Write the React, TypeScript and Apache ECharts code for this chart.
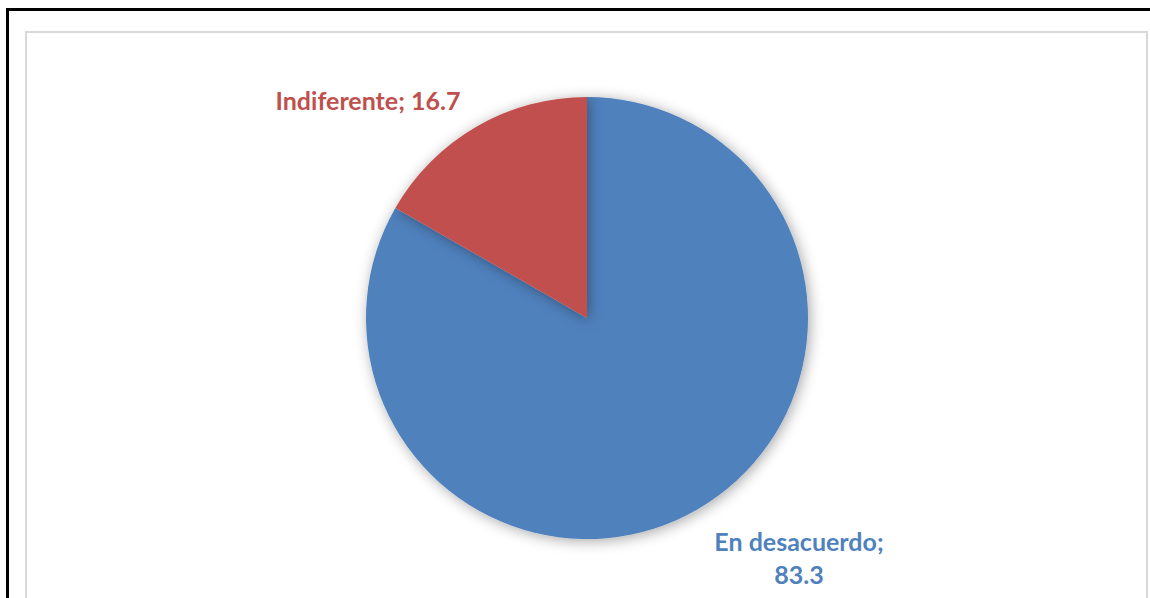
import React, { useEffect, useRef } from "react";
import * as echarts from "echarts";

const categories = ["En desacuerdo", "Indiferente"];
const values = [83.3, 16.7];
const colors = ["#4F81BD", "#C0504D"];

export default function App() {
  const ref = useRef<HTMLDivElement>(null);
  useEffect(() => {
    if (!ref.current) return;
    const chart = echarts.init(ref.current, null, { renderer: "svg" });
    const labelPos = [
      { x: 799, y: 557 },
      { x: 368, y: 100 },
    ];
    chart.setOption({
      animation: false,
      backgroundColor: "#ffffff",
      graphic: [
        {
          type: "line",
          shape: { x1: 7.5, y1: 9.5, x2: 1160, y2: 9.5 },
          style: { stroke: "#000000", lineWidth: 3 },
        },
        {
          type: "line",
          shape: { x1: 7.5, y1: 8, x2: 7.5, y2: 610 },
          style: { stroke: "#000000", lineWidth: 3 },
        },
        {
          type: "polyline",
          shape: { points: [[26, 610], [26, 32], [1147, 32], [1147, 610]] },
          style: { stroke: "#d9d9d9", lineWidth: 2, fill: "none" },
        },
      ],
      series: [
        {
          type: "pie",
          center: [587, 318],
          radius: [0, 221],
          startAngle: 90,
          clockwise: true,
          data: categories.map((c, i) => ({
            name: c,
            value: values[i],
            itemStyle: { color: colors[i] },
            label: { color: colors[i] },
          })),
          itemStyle: {
            shadowBlur: 14,
            shadowOffsetX: 2,
            shadowOffsetY: 2,
            shadowColor: "rgba(0,0,0,0.35)",
            borderWidth: 0,
          },
          label: {
            show: true,
            position: "outside",
            fontFamily: "Lato, 'Open Sans', sans-serif",
            fontWeight: "bold",
            fontSize: 25,
            lineHeight: 33,
            formatter: (p: any) =>
              p.dataIndex === 0 ? `${p.name};\n${p.value}` : `${p.name}; ${p.value}`,
          },
          labelLine: { show: false },
          labelLayout: (params: any) => ({
            x: labelPos[params.dataIndex].x,
            y: labelPos[params.dataIndex].y,
            align: "center",
            verticalAlign: "middle",
          }),
        },
      ],
    });
    return () => chart.dispose();
  }, []);
  return (
    <div
      ref={ref}
      style={{ position: "fixed", left: 0, top: 0, width: 1150, height: 598 }}
    />
  );
}
